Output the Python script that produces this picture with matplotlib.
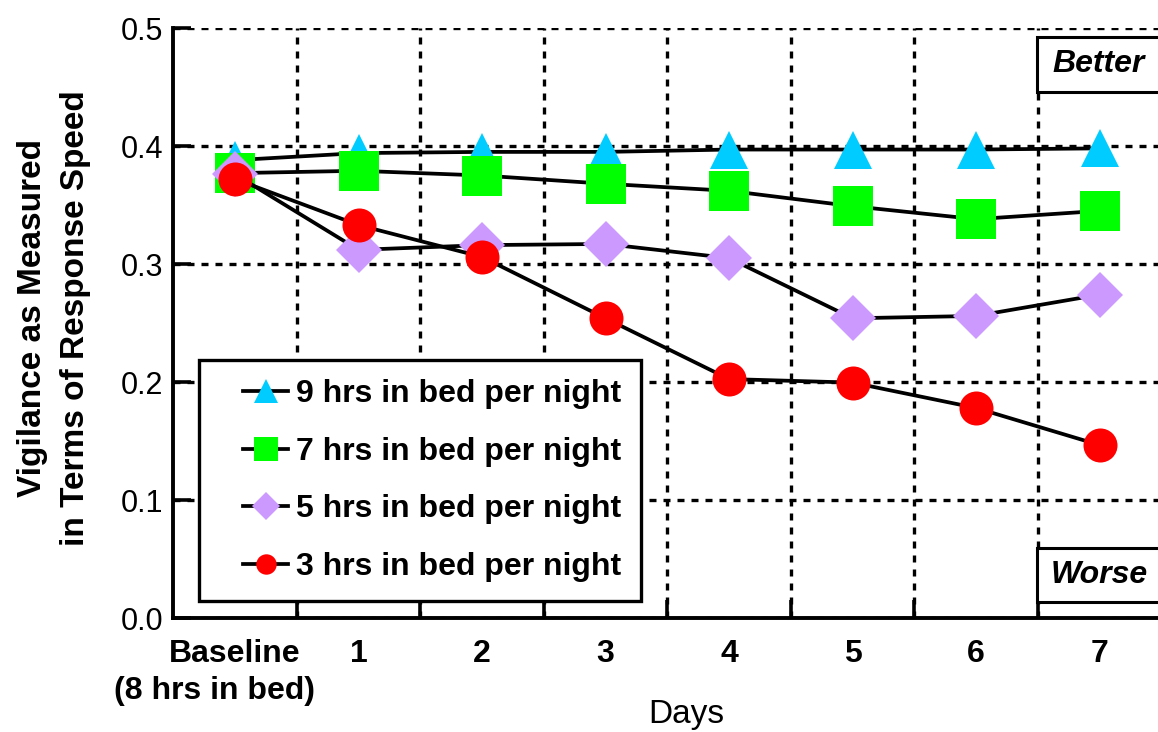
import matplotlib
matplotlib.use("Agg")
import matplotlib.pyplot as plt
from matplotlib.legend_handler import HandlerLine2D
from matplotlib.patches import Rectangle

plt.rcParams['font.family'] = ['Liberation Sans', 'DejaVu Sans']

# ---- data ----
x_labels = ["Baseline", "1", "2", "3", "4", "5", "6", "7"]
series_labels = ["9 hrs in bed per night", "7 hrs in bed per night",
                 "5 hrs in bed per night", "3 hrs in bed per night"]
hrs9 = [0.388, 0.394, 0.395, 0.395, 0.397, 0.397, 0.397, 0.398]
hrs7 = [0.377, 0.379, 0.375, 0.368, 0.362, 0.349, 0.338, 0.345]
hrs5 = [0.376, 0.312, 0.316, 0.317, 0.305, 0.254, 0.256, 0.274]
hrs3 = [0.372, 0.333, 0.306, 0.254, 0.2025, 0.1995, 0.178, 0.1466]
y_ticks = [0.0, 0.1, 0.2, 0.3, 0.4, 0.5]

W, H = 1158, 732
fig = plt.figure(figsize=(W / 100, H / 100), dpi=100)
ax = fig.add_axes([173.25 / W, (H - 618) / H, 988 / W, 590 / H])

xs = list(range(len(x_labels)))
styles = [
    (hrs9, '^', '#00CCFF', 28),
    (hrs7, 's', '#00FF00', 28.5),
    (hrs5, 'D', '#CC99FF', 23),
    (hrs3, 'o', '#FF0000', 24.5),
]
handles = []
for (vals, mk, col, ms), lab in zip(styles, series_labels):
    ln, = ax.plot(xs, vals, color='black', lw=2.7, marker=mk, ms=ms,
                  markerfacecolor=col, markeredgecolor=col, markeredgewidth=0,
                  label=lab, zorder=3)
    handles.append(ln)

ax.set_xlim(-0.5, 7.5)
ax.set_ylim(0, 0.5)

# spines
for s in ['top', 'right']:
    ax.spines[s].set_visible(False)
for s in ['left', 'bottom']:
    ax.spines[s].set_linewidth(2.8)

# ticks
ax.set_yticks(y_ticks)
ax.set_yticklabels([f"{v:.1f}" for v in y_ticks])
ax.set_xticks([i + 0.5 for i in range(len(x_labels))])
ax.set_xticklabels([])
ax.set_xticks(xs, minor=True)
ax.set_xticklabels(x_labels, minor=True, fontsize=23, fontweight='bold')
ax.tick_params(axis='x', which='major', direction='in', length=13, width=2.6)
ax.tick_params(axis='x', which='minor', length=0, pad=15)
ax.tick_params(axis='y', which='major', direction='in', length=13, width=2.6,
               labelsize=22, pad=7)

ax.grid(True, which='major', color='black', lw=2.4, ls=(0, (2.1, 2.1)), zorder=1)
ax.set_axisbelow(True)

# second line of baseline label
ax.text(-0.17, -0.123, "(8 hrs in bed)", fontsize=23, fontweight='bold',
        ha='center', va='center', transform=ax.get_xaxis_transform(), clip_on=False)

# axis labels
fig.text(54 / W, 1 - 318 / H, "Vigilance as Measured\nin Terms of Response Speed",
         rotation=90, ha='center', va='center', fontsize=24, fontweight='bold',
         linespacing=1.5, multialignment='center')
fig.text(686 / W, 1 - 715 / H, "Days", ha='center', va='center', fontsize=24)

# Better / Worse boxes (extend beyond right edge as in the reference)
for (top_px, bot_px, word) in [(37, 92, "Better"), (548, 602, "Worse")]:
    y0 = (618 - bot_px) / 590
    hgt = (bot_px - top_px) / 590
    rect = Rectangle(((1037 - 173.25) / 988, y0), 0.2, hgt, transform=ax.transAxes,
                     facecolor='white', edgecolor='black', lw=2.2, zorder=5,
                     clip_on=False)
    ax.add_patch(rect)
    ax.text(1099 / W, 1 - ((top_px + bot_px) / 2) / H, word, transform=fig.transFigure,
            ha='center', va='center', fontsize=23, fontweight='bold',
            style='italic', zorder=6)

# legend
fs = 23
hmap = {h: HandlerLine2D(numpoints=1, xpad=0.77) for h in handles}
leg = ax.legend(handles=handles, loc='lower left', bbox_to_anchor=(0.026, 0.029),
                borderaxespad=0, prop={'weight': 'bold', 'size': fs},
                frameon=True, fancybox=False, edgecolor='black', framealpha=1,
                borderpad=0.6, labelspacing=0.86, handlelength=2.2,
                handletextpad=0.25, markerscale=0.6, handler_map=hmap)
leg.get_frame().set_linewidth(2.4)
leg.set_zorder(6)

fig.savefig("out.png", dpi=100)
